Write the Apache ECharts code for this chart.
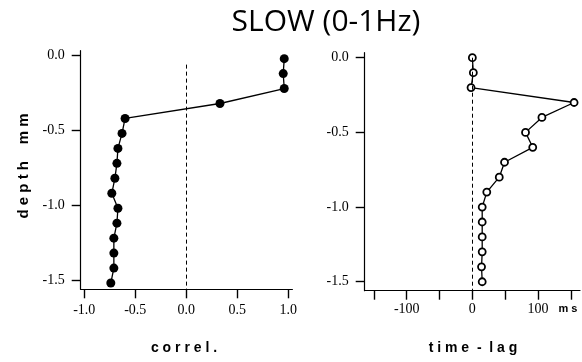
<!DOCTYPE html>
<html>
<head>
<meta charset="utf-8">
<script src="https://cdn.jsdelivr.net/npm/echarts@6/dist/echarts.min.js"></script>
<style>
html,body{margin:0;padding:0;background:#fff;}
#c{width:582px;height:362px;}
</style>
</head>
<body>
<div id="c"></div>
<script>
// ---- data ----
const depthLeft = [-0.02, -0.12, -0.22, -0.32, -0.42, -0.52, -0.62, -0.72, -0.82, -0.92, -1.02, -1.12, -1.22, -1.32, -1.42, -1.52];
const correl    = [0.96, 0.95, 0.96, 0.33, -0.60, -0.63, -0.67, -0.68, -0.70, -0.73, -0.67, -0.68, -0.71, -0.71, -0.71, -0.74];
const depthRight = [0.0, -0.1, -0.2, -0.3, -0.4, -0.5, -0.6, -0.7, -0.8, -0.9, -1.0, -1.1, -1.2, -1.3, -1.4, -1.5];
const timeLag    = [0, 1.5, -2, 155, 106, 81, 92, 49, 41, 22, 15, 15, 15, 15, 14, 15];

const depthTicks = [0.0, -0.5, -1.0, -1.5];
const correlTicks = [-1.0, -0.5, 0.0, 0.5, 1.0];
const lagTicks = [-150, -100, -50, 0, 50, 100, 150];
const lagLabels = [-100, 0, 100];
const zeroLineLeft = [[0, -0.06], [0, -1.562]];
const zeroLineRight = [[0, 0.0], [0, -1.56]];

const title = 'SLOW (0-1Hz)';
const yTitle = 'd e p t h    m m';
const xTitleLeft = 'c o r r e l .';
const xTitleRight = 't i m e  -  l a g';
const unitRight = 'm s';

// ---- chart ----
const chart = echarts.init(document.getElementById('c'), null, {renderer: 'canvas'});
const tickFont = {fontFamily: 'Liberation Serif', fontSize: 14, color: '#000'};
const axisLineStyle = {show: true, onZero: false, lineStyle: {color: '#000', width: 1.2}};
const tickStyle = {show: true, length: 9, lineStyle: {color: '#000', width: 1.4}};

function pairs(xs, ys) { return xs.map((x, i) => [x, ys[i]]); }
function fmt1(v) { return (Math.abs(v) < 1e-9 ? 0 : v).toFixed(1); }

const option = {
  animation: false,
  backgroundColor: '#fff',
  grid: [
    {left: 80.7, top: 50.7, width: 211.7, height: 238.6},
    {left: 364.7, top: 52.7, width: 215.3, height: 238}
  ],
  xAxis: [
    {
      type: 'value', gridIndex: 0, min: -1.035, max: 1.04,
      axisLine: axisLineStyle, splitLine: {show: false},
      axisTick: Object.assign({customValues: correlTicks}, tickStyle),
      axisLabel: Object.assign({customValues: correlTicks, margin: 14, formatter: fmt1}, tickFont)
    },
    {
      type: 'value', gridIndex: 1, min: -164, max: 164,
      axisLine: axisLineStyle, splitLine: {show: false},
      axisTick: Object.assign({customValues: lagTicks}, tickStyle),
      axisLabel: Object.assign({customValues: lagLabels, margin: 12, formatter: v => String(Math.round(v))}, tickFont)
    }
  ],
  yAxis: [
    {
      type: 'value', gridIndex: 0, min: -1.562, max: 0.033,
      axisLine: axisLineStyle, splitLine: {show: false},
      axisTick: Object.assign({customValues: depthTicks}, tickStyle),
      axisLabel: Object.assign({customValues: depthTicks, margin: 16, formatter: fmt1}, tickFont)
    },
    {
      type: 'value', gridIndex: 1, min: -1.56, max: 0.0335,
      axisLine: axisLineStyle, splitLine: {show: false},
      axisTick: Object.assign({customValues: depthTicks}, tickStyle),
      axisLabel: Object.assign({customValues: depthTicks, margin: 16, formatter: fmt1}, tickFont)
    }
  ],
  series: [
    {
      type: 'line', xAxisIndex: 0, yAxisIndex: 0,
      data: pairs(correl, depthLeft),
      symbol: 'circle', symbolSize: 9,
      itemStyle: {color: '#000', borderColor: '#000', borderWidth: 0},
      lineStyle: {color: '#000', width: 1.3},
      markLine: {
        silent: true, symbol: ['none', 'none'], label: {show: false},
        lineStyle: {color: '#000', type: [4, 3], width: 1},
        data: [[{coord: zeroLineLeft[0]}, {coord: zeroLineLeft[1]}]]
      },
      z: 3
    },
    {
      type: 'line', xAxisIndex: 1, yAxisIndex: 1,
      data: pairs(timeLag, depthRight),
      symbol: 'circle', symbolSize: 7,
      itemStyle: {color: '#fff', borderColor: '#000', borderWidth: 1.8},
      lineStyle: {color: '#000', width: 1.3},
      markLine: {
        silent: true, symbol: ['none', 'none'], label: {show: false},
        lineStyle: {color: '#000', type: [4, 3], width: 1},
        data: [[{coord: zeroLineRight[0]}, {coord: zeroLineRight[1]}]]
      },
      z: 3
    }
  ],
  graphic: [
    {type: 'text', x: 326, y: 22, style: {text: title, fontFamily: 'Open Sans', fontSize: 30, fill: '#000', textAlign: 'center', textVerticalAlign: 'middle'}},
    {type: 'text', x: 24, y: 166, rotation: Math.PI / 2, style: {text: yTitle, fontFamily: 'Liberation Sans', fontWeight: 'bold', fontSize: 15, fill: '#000', textAlign: 'center', textVerticalAlign: 'middle'}},
    {type: 'text', x: 184, y: 348, style: {text: xTitleLeft, fontFamily: 'Liberation Sans', fontWeight: 'bold', fontSize: 14, fill: '#000', textAlign: 'center', textVerticalAlign: 'middle'}},
    {type: 'text', x: 473, y: 348, style: {text: xTitleRight, fontFamily: 'Liberation Sans', fontWeight: 'bold', fontSize: 14, fill: '#000', textAlign: 'center', textVerticalAlign: 'middle'}},
    {type: 'text', x: 568, y: 309, style: {text: unitRight, fontFamily: 'Liberation Sans', fontWeight: 'bold', fontSize: 11, fill: '#000', textAlign: 'center', textVerticalAlign: 'middle'}}
  ]
};
chart.setOption(option);
</script>
</body>
</html>
